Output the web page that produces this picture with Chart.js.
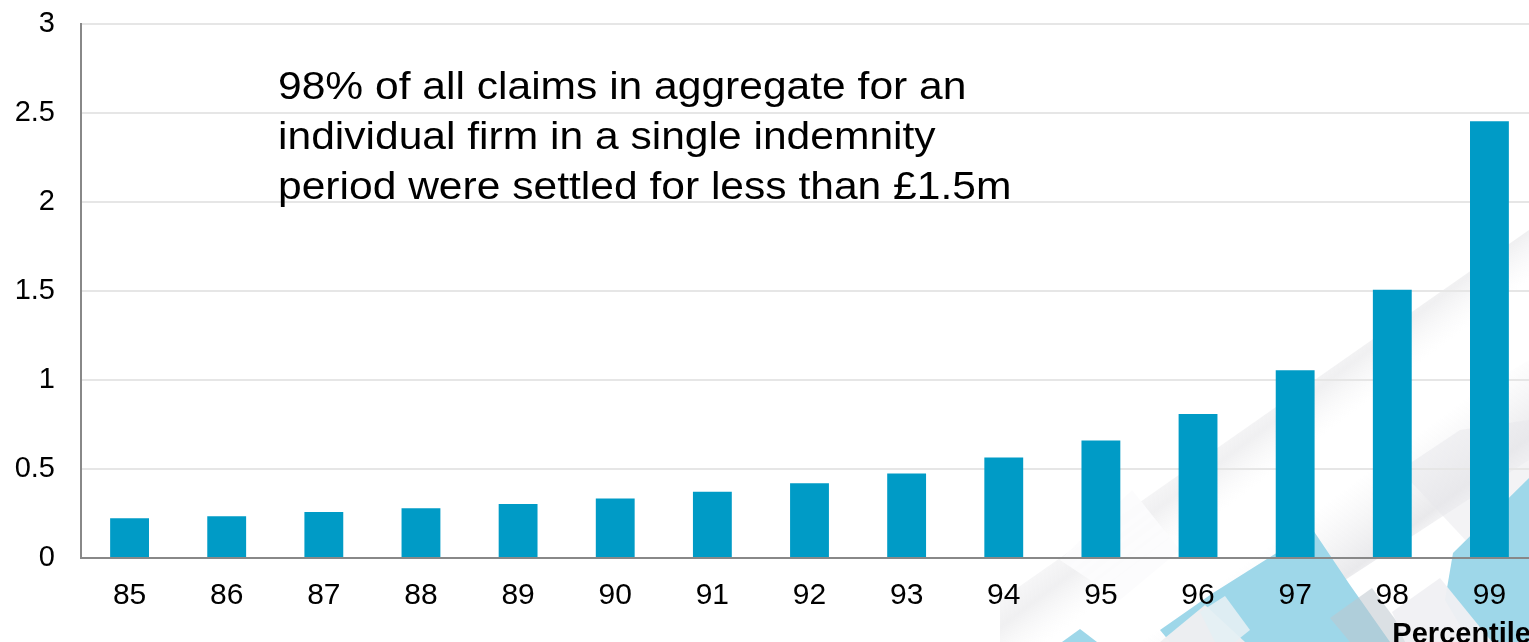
<!DOCTYPE html>
<html lang="en">
<head>
<meta charset="UTF-8">
<title>Percentile claims</title>
<script src="https://cdn.jsdelivr.net/npm/chart.js"></script>
<style>
  html, body { margin: 0; padding: 0; background: #fff; overflow: hidden; }
  #wrap { position: relative; width: 1540px; height: 642px; overflow: hidden; }
  #chart { display: block; margin-top: -19px; }
</style>
</head>
<body>
<div id="wrap"><canvas id="chart" width="1540" height="661"></canvas></div>
<script>
// data
const percentiles = ['85', '86', '87', '88', '89', '90', '91', '92', '93', '94', '95', '96', '97', '98', '99']
const claimValues = [0.223, 0.235, 0.258, 0.28, 0.303, 0.335, 0.372, 0.42, 0.475, 0.565, 0.66, 0.81, 1.055, 1.508, 2.455]
const noteLines = [
  '98% of all claims in aggregate for an',
  'individual firm in a single indemnity',
  'period were settled for less than £1.5m'
]
const axisTitle = 'Percentile'
const FONT = '"Liberation Sans", Arial, sans-serif'
const SHIFT = 19 // canvas is pulled up by this much

// faint diagonal shapes in the lower right corner
const backdrop = {
  id: 'backdrop',
  beforeDraw(chart) {
    const c = chart.ctx
    const poly = (pts, fill) => {
      c.beginPath()
      c.moveTo(pts[0][0], pts[0][1])
      pts.slice(1).forEach(p => c.lineTo(p[0], p[1]))
      c.closePath()
      c.fillStyle = fill
      c.fill()
    }
    const lin = (x0, y0, x1, y1, stops) => {
      const g = c.createLinearGradient(x0, y0, x1, y1)
      stops.forEach(s => g.addColorStop(s[0], s[1]))
      return g
    }
    c.save()
    c.translate(0, SHIFT)
    // soft grey bands
    poly([[1000, 600], [1529, 230], [1529, 340], [1100, 642], [1000, 642]],
      lin(1230, 380, 1290, 460, [[0, 'rgba(215,215,220,0)'], [0.6, 'rgba(205,205,210,0.3)'], [1, 'rgba(230,230,233,0)']]))
    poly([[1060, 642], [1529, 360], [1529, 460], [1250, 642]],
      lin(1330, 500, 1390, 580, [[0, 'rgba(215,215,220,0)'], [0.7, 'rgba(200,200,206,0.4)'], [1, 'rgba(225,225,230,0.05)']]))
    poly([[1400, 470], [1460, 430], [1529, 420], [1529, 520], [1470, 545]], 'rgba(232,232,236,0.5)')
    // white diamond
    poly([[1060, 560], [1132, 490], [1180, 550], [1120, 600]], 'rgba(252,252,253,0.95)')
    // light blue shapes
    const blue = 'rgb(158,215,233)'
    poly([[1170, 642], [1160, 630], [1213, 593], [1313, 530], [1350, 585], [1390, 642]], blue)
    poly([[1453, 553], [1529, 478], [1529, 642], [1470, 642], [1445, 600]], blue)
    poly([[1062, 642], [1080, 629], [1097, 642]], blue)
    // grey and white squares on top
    poly([[1160, 642], [1205, 605], [1245, 642]], 'rgba(238,238,241,0.97)')
    poly([[1200, 612], [1225, 596], [1250, 630], [1235, 642], [1215, 642]], 'rgba(228,240,244,0.9)')
    poly([[1330, 618], [1372, 588], [1412, 642], [1350, 642]], 'rgba(190,198,205,0.55)')
    poly([[1392, 612], [1440, 578], [1492, 642], [1405, 642]], 'rgba(240,240,243,0.95)')
    c.restore()
  }
}

const note = {
  id: 'note',
  afterDraw(chart) {
    const c = chart.ctx
    c.save()
    c.translate(0, SHIFT)
    c.fillStyle = '#000'
    c.textBaseline = 'alphabetic'
    c.font = '38px ' + FONT
    noteLines.forEach((t, i) => {
      c.save()
      c.translate(278, 99 + i * 50)
      c.scale(1.12, 1)
      c.fillText(t, 0, 0)
      c.restore()
    })
    c.font = 'bold 29px ' + FONT
    c.textAlign = 'right'
    c.fillText(axisTitle, 1531, 643)
    c.restore()
  }
}

new Chart(document.getElementById('chart'), {
  type: 'bar',
  data: {
    labels: percentiles,
    datasets: [{
      data: claimValues,
      backgroundColor: '#009bc6',
      barPercentage: 0.4,
      categoryPercentage: 1
    }]
  },
  options: {
    responsive: false,
    animation: false,
    layout: { padding: { top: 4, right: 2, left: 0, bottom: 0 } },
    plugins: { legend: { display: false }, tooltip: { enabled: false } },
    scales: {
      x: {
        grid: { display: false, drawTicks: false },
        border: { color: '#888', width: 2 },
        ticks: { color: '#000', padding: 20, font: { family: FONT, size: 30 } },
        afterFit(s) { s.height = 84 }
      },
      y: {
        min: 0, max: 3,
        ticks: { stepSize: 0.5, color: '#000', padding: 26, font: { family: FONT, size: 29 }, callback: v => String(v) },
        grid: { color: '#e6e6e6', lineWidth: 2, drawTicks: false },
        border: { color: '#888', width: 2 },
        afterFit(s) { s.width = 81 }
      }
    }
  },
  plugins: [backdrop, note]
})
</script>
</body>
</html>
